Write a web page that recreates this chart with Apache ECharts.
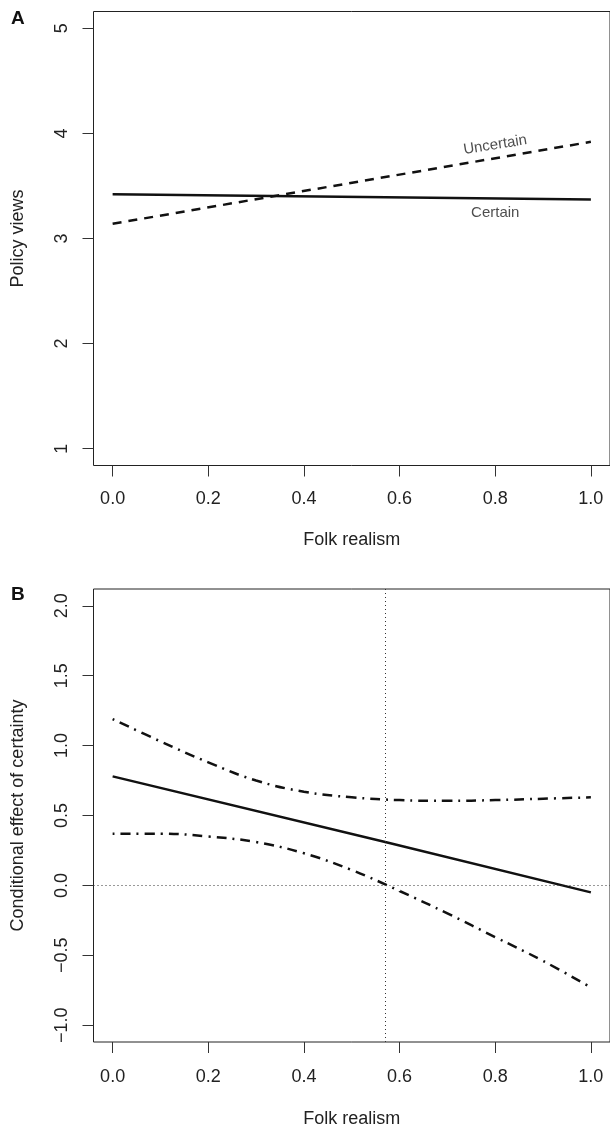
<!DOCTYPE html>
<html>
<head>
<meta charset="utf-8">
<script src="https://cdn.jsdelivr.net/npm/echarts@6/dist/echarts.min.js"></script>
<style>
html,body{margin:0;padding:0;background:#fff;}
#chart{width:610px;height:1129px;}
</style>
</head>
<body>
<div id="chart"></div>
<script>
// ---- Data ----
const xTicks = [0, 0.2, 0.4, 0.6, 0.8, 1.0];
const yTicksA = [1, 2, 3, 4, 5];
const yTicksB = [-1.0, -0.5, 0.0, 0.5, 1.0, 1.5, 2.0];

// Panel A
const xA = [0, 1];
const certain = [3.42, 3.37];
const uncertain = [3.14, 3.92];
const labelNames = ['Uncertain', 'Certain'];
const labelPos = [[0.80, 3.89], [0.80, 3.245]];

// Panel B
const xB = [0, 0.1, 0.2, 0.3, 0.4, 0.5, 0.6, 0.7, 0.8, 0.9, 1.0];
const upperCI = [1.19, 1.03, 0.88, 0.75, 0.67, 0.63, 0.61, 0.605, 0.61, 0.62, 0.63];
const lowerCI = [0.37, 0.37, 0.35, 0.31, 0.23, 0.11, -0.04, -0.20, -0.37, -0.54, -0.73];
const effX = [0, 0.57, 1];
const effect = [0.78, 0.31, -0.05];
const refX = 0.57;
const refY = 0;

const pairs = (xs, ys) => xs.map((x, i) => [x, ys[i]]);
const fmt1 = v => (v < 0 ? '\u2212' + Math.abs(v).toFixed(1) : v.toFixed(1));
const FONT = "'Liberation Sans', Arial, Helvetica, sans-serif";
const TXT = '#222';
const LINE = '#111';

function xAxisDef(gridIndex, labelMargin, nameGap) {
  return {
    type: 'value', gridIndex, min: -0.04, max: 1.04,
    name: 'Folk realism', nameLocation: 'middle', nameGap,
    nameTextStyle: { fontSize: 18, color: TXT, fontFamily: FONT },
    axisLine: { show: false, onZero: false },
    axisTick: { show: true, length: 11, customValues: xTicks, lineStyle: { color: '#333', width: 1 } },
    axisLabel: { customValues: xTicks, formatter: v => v.toFixed(1), margin: labelMargin,
                 fontSize: 18, color: TXT, fontFamily: FONT },
    splitLine: { show: false }
  };
}
function yAxisDef(gridIndex, min, max, ticks, name, fmt) {
  return {
    type: 'value', gridIndex, min, max,
    name, nameLocation: 'middle', nameGap: 66, nameRotate: 90,
    nameTextStyle: { fontSize: 18, color: TXT, fontFamily: FONT },
    axisLine: { show: false, onZero: false },
    axisTick: { show: true, length: 11, customValues: ticks, lineStyle: { color: '#333', width: 1 } },
    axisLabel: { customValues: ticks, formatter: fmt, rotate: 90, margin: 22,
                 fontSize: 18, color: TXT, fontFamily: FONT },
    splitLine: { show: false }
  };
}

const chart = echarts.init(document.getElementById('chart'), null, { renderer: 'canvas' });
chart.setOption({
  animation: false,
  backgroundColor: '#fff',
  title: [
    { text: 'A', left: 11, top: 9, padding: 0, textStyle: { fontSize: 19, fontWeight: 'bold', color: '#111', fontFamily: "'Liberation Sans Narrow', " + FONT } },
    { text: 'B', left: 11, top: 585, padding: 0, textStyle: { fontSize: 19, fontWeight: 'bold', color: '#111', fontFamily: "'Liberation Sans Narrow', " + FONT } }
  ],
  grid: [
    { left: 93.5, top: 11.5, width: 519, height: 454, show: true, borderColor: '#222', borderWidth: 1, backgroundColor: 'transparent' },
    { left: 93.5, top: 589, width: 519, height: 453, show: true, borderColor: '#222', borderWidth: 1, backgroundColor: 'transparent' }
  ],
  xAxis: [ xAxisDef(0, 25, 66), xAxisDef(1, 26, 68) ],
  yAxis: [
    yAxisDef(0, 0.84, 5.16, yTicksA, 'Policy views', v => String(v)),
    yAxisDef(1, -1.12, 2.12, yTicksB, 'Conditional effect of certainty', fmt1)
  ],
  series: [
    { type: 'line', xAxisIndex: 0, yAxisIndex: 0, data: pairs(xA, certain), symbol: 'none',
      lineStyle: { color: LINE, width: 2.5, type: 'solid' }, silent: true },
    { type: 'line', xAxisIndex: 0, yAxisIndex: 0, data: pairs(xA, uncertain), symbol: 'none',
      lineStyle: { color: LINE, width: 2.5, type: [9, 7] }, silent: true },
    { type: 'scatter', xAxisIndex: 0, yAxisIndex: 0, symbolSize: 1, itemStyle: { color: 'rgba(0,0,0,0)' }, silent: true,
      data: labelPos.map((p, i) => ({ value: p, name: labelNames[i],
        label: { show: true, position: 'inside', formatter: labelNames[i], rotate: i === 0 ? 9 : 0,
                 fontSize: 15, color: TXT, fontFamily: FONT } })) },
    { type: 'line', xAxisIndex: 1, yAxisIndex: 1, data: pairs(effX, effect), symbol: 'none',
      lineStyle: { color: LINE, width: 2.5, type: 'solid' }, silent: true,
      markLine: { silent: true, symbol: 'none', label: { show: false },
        lineStyle: { color: '#333', width: 1, type: [1, 3] },
        data: [ { xAxis: refX }, { yAxis: refY } ] } },
    { type: 'line', xAxisIndex: 1, yAxisIndex: 1, data: pairs(xB, upperCI), symbol: 'none', smooth: 0.4,
      lineStyle: { color: LINE, width: 2.5, type: [2, 6, 10, 6] }, silent: true },
    { type: 'line', xAxisIndex: 1, yAxisIndex: 1, data: pairs(xB, lowerCI), symbol: 'none', smooth: 0.4,
      lineStyle: { color: LINE, width: 2.5, type: [2, 6, 10, 6] }, silent: true }
  ]
});
</script>
</body>
</html>
